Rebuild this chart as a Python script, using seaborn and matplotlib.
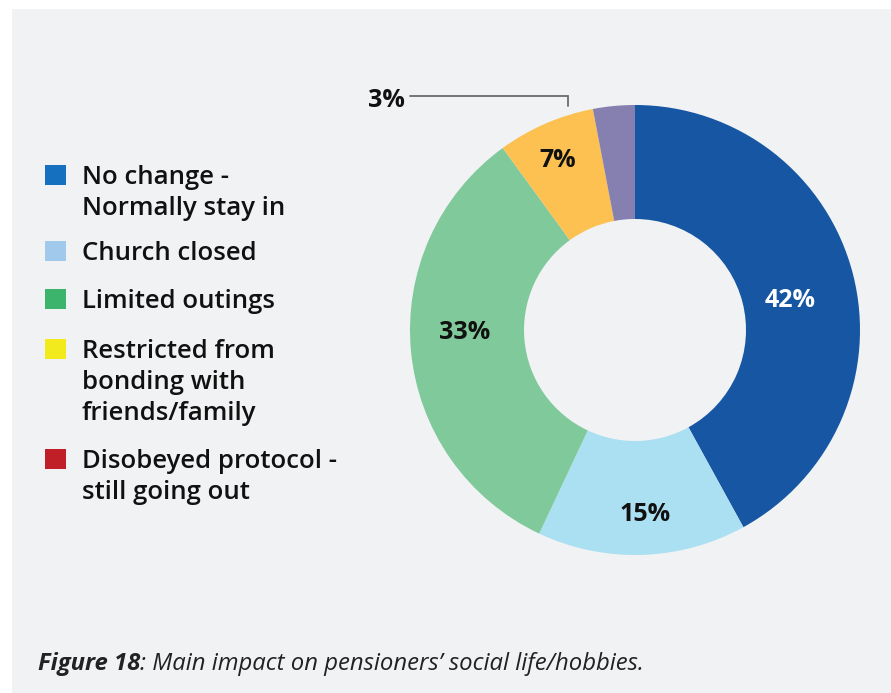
import matplotlib
matplotlib.use("Agg")
import matplotlib.pyplot as plt
from matplotlib.patches import Rectangle
import numpy as np
import seaborn as sns

# Survey shares (percent), drawn clockwise from 12 o'clock
categories = ["No change - Normally stay in", "Church closed", "Limited outings",
              "Restricted from bonding with friends/family",
              "Disobeyed protocol - still going out"]
values = [42, 15, 33, 7, 3]
pct_labels = ["42%", "15%", "33%", "7%", "3%"]
wedge_colors = ["#1656a3", "#abdff2", "#7fc99b", "#fcc151", "#8580b0"]

legend_labels = ["No change -\nNormally stay in", "Church closed", "Limited outings",
                 "Restricted from\nbonding with\nfriends/family",
                 "Disobeyed protocol -\nstill going out"]
legend_colors = ["#1570bf", "#a0c9eb", "#3db46b", "#f2ea1c", "#c11f28"]

caption_bold = "Figure 18"
caption_rest = ": Main impact on pensioners\u2019 social life/hobbies."

sns.set_theme(style="white")
plt.rcParams["font.family"] = ["Open Sans", "DejaVu Sans"]

W, H = 891, 693
fig = plt.figure(figsize=(W / 100, H / 100), dpi=100, facecolor="white")

# light grey panel behind everything
fig.patches.append(Rectangle((12 / W, 0), 1, (H - 9) / H, transform=fig.transFigure,
                             facecolor="#f1f2f4", edgecolor="none", zorder=-5))

# donut axes: centre at (635, 330) px, outer radius 225 px
cx, cy, R, half = 635, 330, 225, 250
ax = fig.add_axes([(cx - half) / W, (H - cy - half) / H, 2 * half / W, 2 * half / H])
ax.set_zorder(2)
ax.set_facecolor("none")
lim = half / R
ax.axis("off")

ax.pie(values, colors=wedge_colors, startangle=90, counterclock=False, radius=1.0,
       wedgeprops=dict(width=1 - 111 / 225, edgecolor="none"))
ax.set_xlim(-lim, lim)
ax.set_ylim(-lim, lim)
ax.set_aspect("equal")

# percentage labels inside the ring
total = float(sum(values))
cum = np.cumsum([0] + values[:-1])
label_r = [0.71, 0.82, 0.76, 0.86]
label_dx = [0.0, 0.02, 0.0, 0.0]
label_dy = [-0.044, 0.0, 0.062, -0.035]
label_colors = ["white", "#111111", "#111111", "#111111"]
for i in range(4):
    mid = (cum[i] + values[i] / 2) / total * 2 * np.pi
    x = label_r[i] * np.sin(mid) + label_dx[i]
    y = label_r[i] * np.cos(mid) + label_dy[i]
    ax.text(x, y, pct_labels[i], ha="center", va="center", fontsize=18,
            fontweight="bold", color=label_colors[i])

# small slice: label outside with a leader line
ax.plot([-1.0, -0.298, -0.298], [1.04, 1.04, 0.996], color="#6b6b6b", lw=1.3,
        clip_on=False, solid_joinstyle="miter")
ax.text(-1.025, 1.022, pct_labels[4], ha="right", va="center", fontsize=18,
        fontweight="bold", color="#111111", clip_on=False)

# legend
leg_y = [175, 251, 299, 349, 459]
line_h = 30.5
for lab, col, y in zip(legend_labels, legend_colors, leg_y):
    fig.patches.append(Rectangle((45 / W, (H - y - 10) / H), 21 / W, 20 / H,
                                 transform=fig.transFigure, facecolor=col,
                                 edgecolor="none", zorder=2))
    for k, line in enumerate(lab.split("\n")):
        fig.text(82 / W, (H - y - k * line_h) / H, line, ha="left", va="center_baseline",
                 fontsize=18.5, fontweight="semibold", color="#111111")

# caption
cap_font = ["Open Sans", "DejaVu Sans"]
t1 = fig.text(38 / W, (H - 670) / H, caption_bold, ha="left", va="baseline",
              fontsize=17.2, fontweight="bold", fontstyle="italic", family=cap_font,
              color="#222222")
fig.canvas.draw()
bb = t1.get_window_extent()
fig.text(bb.x1 / W, (H - 670) / H, caption_rest, ha="left", va="baseline",
         fontsize=17.2, fontstyle="italic", family=cap_font, color="#222222")

fig.savefig("out.png", dpi=100, facecolor="white")
